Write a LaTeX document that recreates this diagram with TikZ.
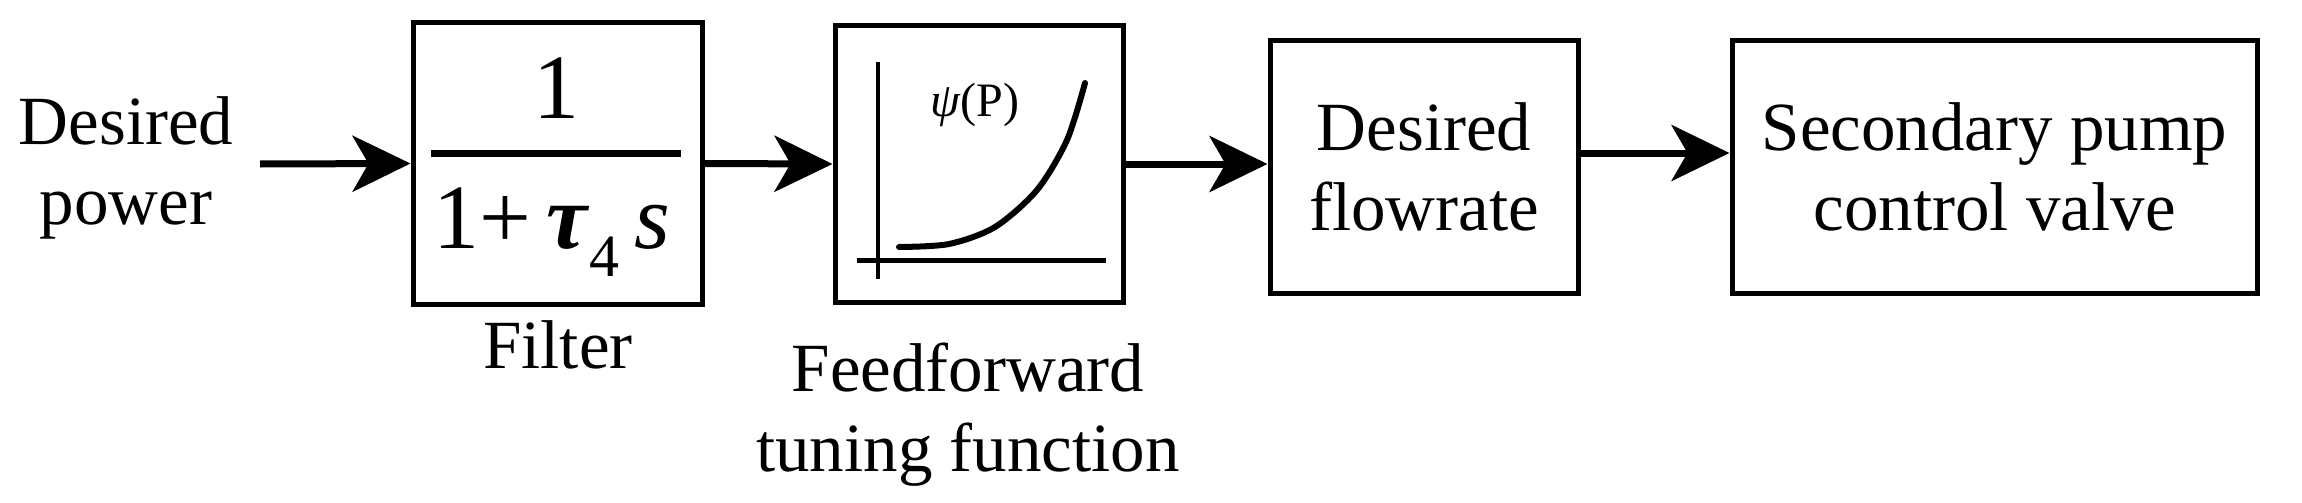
\documentclass[tikz,border=0pt]{standalone}
\usepackage{fontspec}
\setmainfont{Liberation Serif}
\usetikzlibrary{arrows.meta}
\begin{document}
\begin{tikzpicture}[x=1pt,y=-1pt,
  box/.style={draw,line width=5pt,inner sep=0pt},
  txt/.style={font=\fontsize{69}{80}\selectfont,align=center,inner sep=0pt},
  arr/.style={line width=7pt,-{Stealth[length=58pt,width=56pt,inset=16pt]}}]
\useasboundingbox (0,0) rectangle (2302,503);
% boxes
\node[box,minimum width=289pt,minimum height=281pt] (f) at (557.5,163.5) {};
\node[box,minimum width=288pt,minimum height=276pt] (g) at (979,164) {};
\node[box,minimum width=308pt,minimum height=252pt,txt] (d) at (1424,167) {Desired\\flowrate};
\node[box,minimum width=525pt,minimum height=252pt,txt] (c) at (1994.5,167) {Secondary pump\\control valve};
% texts
\node[txt] (p) at (126,168) {Desired\\power};
\node[txt] (fl) at (558,345) {Filter};
\node[txt] (ff) at (968,415) {Feedforward\\tuning function};
% fraction
\node[inner sep=0pt,font=\fontsize{92}{100}\selectfont] (num) at (556,88) {1};
\node[inner sep=0pt,font=\fontsize{92}{100}\selectfont] (den) at (552,232) {1+\,\textbf{\textit{τ}}\raisebox{-0.3em}{\fontsize{60}{60}\selectfont 4}\,\textit{s}};
\coordinate (b1) at (431,153); \coordinate (b2) at (681,153);
\draw[line width=7pt] (b1) -- (b2);
% graph
\coordinate (va) at (878,62); \coordinate (vb) at (878,279);
\coordinate (ha) at (857,260); \coordinate (hb) at (1106,260);
\draw[line width=4pt] (va) -- (vb);
\draw[line width=5pt] (ha) -- (hb);
\draw[line width=6pt,line cap=round] plot[smooth] coordinates {(899,247) (949,244) (995,227) (1037,190) (1067,140) (1085,83)};
\node[inner sep=0pt,font=\fontsize{48}{50}\selectfont] (psi) at (975,105) {\textit{ψ}(P)};
% arrows
\coordinate (s) at (260,164);
\draw[arr] (s) -- (f.west);
\draw[arr] (f.east) -- (g.west);
\draw[arr] (g.east) -- (d.west |- g.east);
\draw[arr] (d.east |- 0,153) -- (c.west |- 0,153);
\end{tikzpicture}
\end{document}
